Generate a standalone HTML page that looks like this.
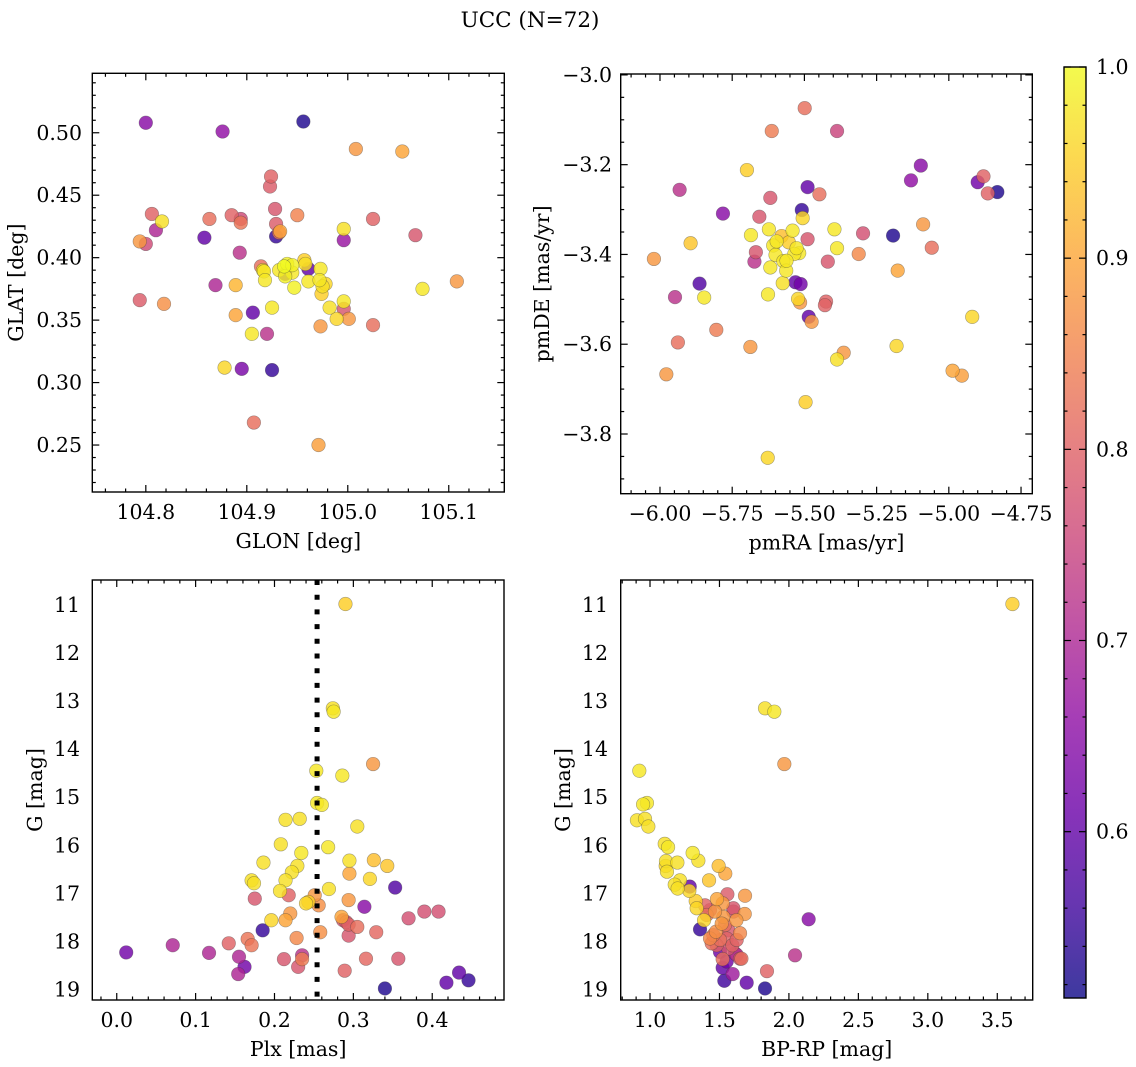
<!DOCTYPE html>
<html><head><meta charset="utf-8"><style>
html,body{margin:0;padding:0;background:#fff;}
svg{display:block;font-family:"DejaVu Serif","Liberation Serif",serif;}
</style></head><body>
<svg id="fig" width="1136" height="1067" viewBox="0 0 1136 1067" xmlns="http://www.w3.org/2000/svg">
<defs>
<linearGradient id="plasma" x1="0" y1="1" x2="0" y2="0">
<stop offset="0" stop-color="#0d0887"/><stop offset="0.1" stop-color="#41049d"/><stop offset="0.2" stop-color="#6a00a8"/><stop offset="0.3" stop-color="#8f0da4"/><stop offset="0.4" stop-color="#b12a90"/><stop offset="0.5" stop-color="#cc4778"/><stop offset="0.6" stop-color="#e16462"/><stop offset="0.7" stop-color="#f2844b"/><stop offset="0.8" stop-color="#fca636"/><stop offset="0.9" stop-color="#fcce25"/><stop offset="1" stop-color="#f0f921"/>
</linearGradient>
</defs>
<text x="530" y="27" text-anchor="middle" font-size="21.5">UCC (N=72)</text>
</svg>
<script>
// ---- Panel 1: GLON / GLAT ----
const glon=[104.800,104.876,104.956,105.008,105.054,104.924,104.923,104.928,104.806,104.816,104.810,104.863,104.885,104.894,104.894,104.950,104.929,104.933,104.929,105.025,104.996,104.996,105.067,104.794,104.800,104.858,104.893,104.957,104.914,104.917,104.937,104.940,104.938,104.945,104.961,104.973,104.918,104.961,104.972,104.978,104.947,104.869,104.889,105.108,105.074,104.974,104.794,104.818,104.925,104.982,104.996,104.996,104.889,104.906,104.989,105.001,104.973,105.025,104.905,104.920,104.878,104.895,104.925,104.907,104.971,104.932,104.916,104.958,104.938,104.975,104.932,104.945];
const glat=[0.508,0.501,0.509,0.487,0.485,0.465,0.457,0.439,0.435,0.429,0.422,0.431,0.434,0.431,0.428,0.434,0.427,0.421,0.417,0.431,0.423,0.414,0.418,0.413,0.411,0.416,0.404,0.398,0.393,0.389,0.393,0.395,0.387,0.388,0.391,0.391,0.382,0.381,0.382,0.379,0.376,0.378,0.378,0.381,0.375,0.371,0.366,0.363,0.360,0.360,0.365,0.359,0.354,0.356,0.351,0.351,0.345,0.346,0.339,0.339,0.312,0.311,0.310,0.268,0.250,0.390,0.390,0.395,0.385,0.377,0.420,0.394];
const prob1=[0.65,0.66,0.53,0.88,0.90,0.80,0.79,0.78,0.80,0.97,0.70,0.82,0.80,0.76,0.83,0.85,0.79,0.90,0.55,0.80,0.97,0.67,0.78,0.88,0.76,0.60,0.72,0.95,0.82,0.98,1.00,0.99,0.60,0.98,0.60,0.98,0.98,0.98,0.98,0.96,0.99,0.70,0.92,0.88,0.98,0.95,0.79,0.87,0.98,0.97,0.98,0.78,0.90,0.60,0.96,0.88,0.88,0.82,0.98,0.72,0.96,0.63,0.55,0.82,0.89,0.98,0.97,0.97,0.99,0.97,0.82,0.99];
// ---- Panel 2: pmRA / pmDE ----
const pmra=[-5.499,-5.613,-5.387,-5.699,-5.097,-5.131,-4.880,-4.900,-4.865,-4.832,-5.932,-5.489,-5.448,-5.618,-5.782,-5.509,-5.506,-5.656,-5.089,-5.685,-5.623,-5.579,-5.541,-5.554,-5.608,-5.489,-5.396,-5.387,-5.297,-5.193,-5.894,-5.059,-5.668,-5.518,-5.535,-5.600,-5.673,-5.573,-5.419,-5.312,-6.021,-5.618,-5.563,-5.177,-5.575,-5.531,-5.513,-5.863,-5.948,-5.847,-5.626,-5.522,-5.515,-5.425,-5.429,-5.485,-5.475,-4.919,-5.805,-5.938,-5.687,-5.181,-5.364,-5.387,-5.978,-4.987,-4.955,-5.496,-5.627,-5.596,-5.527,-5.562];
const pmde=[-3.074,-3.125,-3.125,-3.212,-3.202,-3.235,-3.226,-3.239,-3.264,-3.261,-3.256,-3.250,-3.266,-3.274,-3.309,-3.301,-3.319,-3.316,-3.333,-3.357,-3.344,-3.359,-3.347,-3.373,-3.380,-3.366,-3.344,-3.386,-3.353,-3.358,-3.375,-3.385,-3.395,-3.397,-3.399,-3.401,-3.416,-3.415,-3.416,-3.399,-3.410,-3.429,-3.436,-3.436,-3.464,-3.462,-3.466,-3.465,-3.495,-3.496,-3.489,-3.499,-3.507,-3.505,-3.513,-3.539,-3.550,-3.539,-3.568,-3.596,-3.606,-3.604,-3.619,-3.634,-3.667,-3.659,-3.670,-3.729,-3.853,-3.371,-3.386,-3.414];
const prob2=[0.82,0.84,0.75,0.95,0.65,0.66,0.80,0.62,0.80,0.53,0.72,0.60,0.82,0.78,0.65,0.55,0.96,0.78,0.88,0.98,0.98,0.93,0.98,0.95,0.98,0.78,0.98,0.98,0.77,0.53,0.94,0.82,0.78,0.98,0.98,0.98,0.72,0.98,0.78,0.86,0.88,0.98,0.98,0.90,0.97,0.60,0.62,0.58,0.72,0.98,0.98,0.96,0.88,0.80,0.80,0.60,0.88,0.96,0.84,0.82,0.88,0.96,0.88,0.97,0.88,0.90,0.89,0.95,0.96,0.98,0.98,0.98];
// ---- Panel 3: Plx / G ----
const plx=[0.290,0.274,0.275,0.325,0.253,0.286,0.254,0.260,0.214,0.232,0.305,0.208,0.268,0.234,0.186,0.295,0.326,0.343,0.229,0.222,0.295,0.171,0.174,0.214,0.321,0.353,0.269,0.207,0.251,0.218,0.175,0.294,0.243,0.240,0.256,0.314,0.370,0.390,0.408,0.220,0.214,0.196,0.285,0.287,0.294,0.305,0.185,0.258,0.329,0.294,0.228,0.166,0.171,0.142,0.071,0.012,0.117,0.155,0.212,0.235,0.235,0.316,0.357,0.162,0.230,0.154,0.289,0.434,0.418,0.446,0.340,0.291];
const gmag3=[10.98,13.15,13.22,14.31,14.45,14.55,15.12,15.16,15.47,15.45,15.61,15.98,16.04,16.16,16.36,16.32,16.31,16.43,16.43,16.56,16.59,16.73,16.79,16.73,16.70,16.88,16.91,16.95,17.04,17.04,17.11,17.14,17.18,17.21,17.25,17.28,17.52,17.38,17.38,17.42,17.56,17.56,17.49,17.56,17.65,17.70,17.77,17.81,17.81,17.88,17.93,17.95,18.08,18.04,18.08,18.23,18.24,18.32,18.37,18.29,18.37,18.36,18.36,18.53,18.53,18.68,18.61,18.65,18.86,18.81,18.98,17.60];
const prob3=[0.95,0.97,0.98,0.88,0.98,0.98,0.98,0.98,0.97,0.97,0.97,0.97,0.98,0.98,0.97,0.97,0.93,0.94,0.97,0.97,0.90,0.97,0.97,0.97,0.96,0.58,0.97,0.97,0.88,0.80,0.78,0.88,0.95,0.96,0.87,0.65,0.77,0.77,0.77,0.88,0.90,0.96,0.90,0.78,0.80,0.82,0.55,0.87,0.81,0.78,0.86,0.83,0.83,0.80,0.70,0.62,0.70,0.70,0.78,0.72,0.84,0.81,0.78,0.62,0.78,0.70,0.80,0.60,0.60,0.55,0.53,0.78];
// ---- Panel 4: BP-RP / G ----
const bprp=[3.609,1.828,1.895,1.967,0.923,0.978,0.950,0.906,0.964,0.988,1.106,1.130,1.307,1.348,1.115,1.197,1.494,1.113,1.542,1.122,1.425,1.216,1.178,1.286,1.199,1.283,1.557,1.684,1.329,1.482,1.523,1.396,1.432,1.600,1.682,1.528,1.622,2.142,1.389,1.540,1.360,1.475,1.456,1.432,1.552,1.444,1.593,1.504,1.612,2.044,1.523,1.648,1.658,1.523,1.595,1.842,1.535,1.696,1.828,1.468,1.564,1.504,1.564,1.624,1.516,1.408,1.600,1.480,1.552,1.624,1.336,1.648];
const gmag4=[10.98,13.15,13.22,14.31,14.45,15.12,15.15,15.48,15.45,15.61,15.97,16.04,16.16,16.32,16.33,16.36,16.43,16.43,16.59,16.55,16.73,16.73,16.82,16.86,16.90,16.95,17.02,17.05,17.16,17.12,17.21,17.25,17.35,17.38,17.43,17.49,17.56,17.54,17.56,17.66,17.75,17.80,17.87,17.94,17.94,18.04,18.08,18.22,18.25,18.29,18.37,18.36,18.36,18.55,18.68,18.62,18.82,18.86,18.98,17.38,17.77,17.97,18.15,18.28,17.63,17.45,17.31,18.08,18.42,17.97,17.31,17.83];
const prob4=[0.95,0.97,0.98,0.88,0.98,0.98,0.98,0.97,0.97,0.97,0.97,0.98,0.98,0.97,0.97,0.97,0.93,0.96,0.90,0.97,0.94,0.97,0.97,0.60,0.97,0.96,0.79,0.88,0.95,0.90,0.88,0.80,0.78,0.78,0.88,0.88,0.88,0.65,0.96,0.82,0.55,0.87,0.83,0.86,0.80,0.82,0.80,0.62,0.70,0.72,0.82,0.78,0.82,0.60,0.68,0.80,0.56,0.60,0.53,0.88,0.78,0.82,0.78,0.72,0.88,0.82,0.78,0.80,0.62,0.80,0.96,0.86];
// ---- tick labels ----
const p1XTicks=[104.8,104.9,105.0,105.1];
const p1YTicks=[0.25,0.30,0.35,0.40,0.45,0.50];
const p2XTicks=[-6.00,-5.75,-5.50,-5.25,-5.00,-4.75];
const p2YTicks=[-3.8,-3.6,-3.4,-3.2,-3.0];
const p3XTicks=[0.0,0.1,0.2,0.3,0.4];
const gTicks=[11,12,13,14,15,16,17,18,19];
const p4XTicks=[1.0,1.5,2.0,2.5,3.0,3.5];
const cbTicks=[0.6,0.7,0.8,0.9,1.0];
const plxMedian=[0.254];

const VMIN=0.513, VMAX=1.0;
const FS=20.5;
const NS='http://www.w3.org/2000/svg';
const fig=document.getElementById('fig');
const stops=[[13,8,135],[65,4,157],[106,0,168],[143,13,164],[177,42,144],[204,71,120],[225,100,98],[242,132,75],[252,166,54],[252,206,37],[240,249,33]];
function plasma(v){let t=(v-VMIN)/(VMAX-VMIN);t=Math.max(0,Math.min(1,t))*10;const i=Math.min(9,Math.floor(t)),f=t-i;const a=stops[i],b=stops[i+1];return 'rgb('+a.map((c,k)=>Math.round(c+(b[k]-c)*f)).join(',')+')';}
function el(tag,attrs,parent){const e=document.createElementNS(NS,tag);for(const k in attrs)e.setAttribute(k,attrs[k]);(parent||fig).appendChild(e);return e;}
function fmt(v,d){return (v<0?'\u2212':'')+Math.abs(v).toFixed(d);}

function panel(cfg){
  const g=el('g',{});
  
  
  const X=v=>cfg.l+(v-cfg.x0)/(cfg.x1-cfg.x0)*(cfg.r-cfg.l);
  const Y=v=>cfg.b-(v-cfg.y0)/(cfg.y1-cfg.y0)*(cfg.b-cfg.t);
  const idx=cfg.xs.map((_,i)=>i).sort((a,b)=>cfg.ps[a]-cfg.ps[b]);
  const pg=el('g',{},g);
  for(const i of idx){
    const c=el('circle',{cx:X(cfg.xs[i]),cy:Y(cfg.ys[i]),r:6.8,fill:plasma(cfg.ps[i]),'fill-opacity':0.82,stroke:'rgba(60,60,60,0.45)','stroke-width':0.6},pg);
    
    
  }
  if(cfg.vline){
    const ln=el('line',{x1:X(cfg.vline[0]),x2:X(cfg.vline[0]),y1:cfg.t,y2:cfg.b,stroke:'#000','stroke-width':5,'stroke-dasharray':'5 9.7'},g);
    
    
  }
  const tk=el('g',{stroke:'#000','stroke-width':1.2},g);
  for(let v=Math.ceil(cfg.x0/cfg.xmin-1e-6)*cfg.xmin;v<=cfg.x1+1e-9;v+=cfg.xmin){
    const x=X(v);const maj=Math.abs(v/cfg.xmaj-Math.round(v/cfg.xmaj))<1e-4;const L=maj?7:3.5;
    el('line',{x1:x,x2:x,y1:cfg.b,y2:cfg.b-L},tk);el('line',{x1:x,x2:x,y1:cfg.t,y2:cfg.t+L},tk);
  }
  for(let v=Math.ceil(cfg.y0/cfg.ymin-1e-6)*cfg.ymin;v<=cfg.y1+1e-9;v+=cfg.ymin){
    const y=Y(v);const maj=Math.abs(v/cfg.ymaj-Math.round(v/cfg.ymaj))<1e-4;const L=maj?7:3.5;
    el('line',{x1:cfg.l,x2:cfg.l+L,y1:y,y2:y},tk);el('line',{x1:cfg.r,x2:cfg.r-L,y1:y,y2:y},tk);
  }
  const box=el('rect',{x:cfg.l,y:cfg.t,width:cfg.r-cfg.l,height:cfg.b-cfg.t,fill:'none',stroke:'#000','stroke-width':1.4},g);
  
  
  for(const v of cfg.xt){
    const t=el('text',{x:X(v),y:cfg.b+27,'text-anchor':'middle','font-size':FS},g);t.textContent=fmt(v,cfg.xd);
    
    
  }
  for(const v of cfg.yt){
    const t=el('text',{x:cfg.ylx,y:Y(v)+7,'text-anchor':'end','font-size':FS},g);t.textContent=fmt(v,cfg.yd);
    
    
  }
  const xl=el('text',{x:(cfg.l+cfg.r)/2,y:cfg.b+56,'text-anchor':'middle','font-size':FS},g);xl.textContent=cfg.xlab;
  
  
  const yc=(cfg.t+cfg.b)/2;
  const yl=el('text',{x:cfg.ytx,y:yc,'text-anchor':'middle','font-size':FS,transform:'rotate(-90 '+cfg.ytx+' '+yc+')'},g);yl.textContent=cfg.ylab;
  
  
}

panel({name:'panel-glon-glat',l:92.3,r:504.3,t:73.3,b:492,x0:104.747,x1:105.155,y0:0.2124,y1:0.5476,xmaj:0.1,xmin:0.02,ymaj:0.05,ymin:0.01,xs:glon,ys:glat,ps:prob1,xt:p1XTicks,yt:p1YTicks,xd:1,yd:2,ylx:82,ytx:23,xlab:'GLON [deg]',ylab:'GLAT [deg]'});
panel({name:'panel-pmra-pmde',l:620.7,r:1032.3,t:74,b:493.7,x0:-6.136,x1:-4.711,y0:-3.933,y1:-2.998,xmaj:0.25,xmin:0.05,ymaj:0.2,ymin:0.05,xs:pmra,ys:pmde,ps:prob2,xt:p2XTicks,yt:p2YTicks,xd:2,yd:1,ylx:612,ytx:549,xlab:'pmRA [mas/yr]',ylab:'pmDE [mas/yr]'});
panel({name:'panel-plx-g',l:92.3,r:504,t:580,b:1000,x0:-0.031,x1:0.491,y0:19.22,y1:10.48,xmaj:0.1,xmin:0.02,ymaj:1,ymin:0.2,xs:plx,ys:gmag3,ps:prob3,xt:p3XTicks,yt:gTicks,xd:1,yd:0,ylx:80,ytx:42,xlab:'Plx [mas]',ylab:'G [mag]',vline:plxMedian});
panel({name:'panel-bprp-g',l:620.7,r:1032.7,t:580,b:1000,x0:0.789,x1:3.755,y0:19.22,y1:10.48,xmaj:0.5,xmin:0.1,ymaj:1,ymin:0.2,xs:bprp,ys:gmag4,ps:prob4,xt:p4XTicks,yt:gTicks,xd:1,yd:0,ylx:608,ytx:570,xlab:'BP-RP [mag]',ylab:'G [mag]'});

// colorbar
const cb=el('g',{});


const CT=67,CB=998,CL=1064,CR=1086;
const CY=v=>CB-(v-VMIN)/(VMAX-VMIN)*(CB-CT);
el('rect',{x:CL,y:CT,width:CR-CL,height:CB-CT,fill:'url(#plasma)','fill-opacity':0.8},cb);
el('rect',{x:CL,y:CT,width:CR-CL,height:CB-CT,fill:'none',stroke:'#000','stroke-width':1.4},cb);
for(let v=0.52;v<=1.0001;v+=0.02){
  const y=CY(v);const maj=Math.abs(v*10-Math.round(v*10))<1e-4;
  el('line',{x1:CR,x2:CR-(maj?7:3.5),y1:y,y2:y,stroke:'#000','stroke-width':1.2},cb);
  el('line',{x1:CL,x2:CL+(maj?7:3.5),y1:y,y2:y,stroke:'#000','stroke-width':1.2},cb);
}
for(const v of cbTicks){
  const t=el('text',{x:1096,y:CY(v)+7,'font-size':FS},cb);t.textContent=v.toFixed(1);
  
  
}
</script>
</body></html>
